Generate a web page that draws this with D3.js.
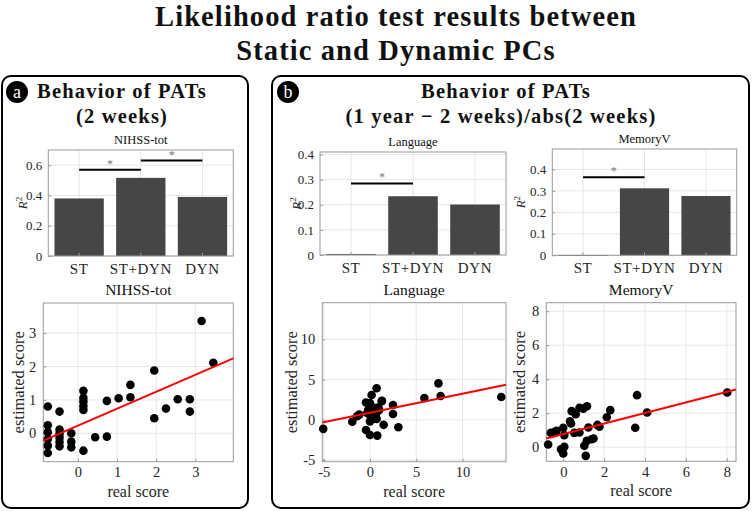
<!DOCTYPE html>
<html><head><meta charset="utf-8">
<script src="https://cdn.jsdelivr.net/npm/d3@7"></script>
<style>
html,body{margin:0;padding:0;background:#fff;}
svg{display:block;font-family:"Liberation Serif","Times New Roman",serif;}
</style></head>
<body><svg id="c" width="752" height="511"></svg>
<script>
// ---------- DATA ----------
const barCategories = ["ST", "ST+DYN", "DYN"];
const nihssR2 = [0.38, 0.516, 0.39];
const languageR2 = [0.004, 0.234, 0.201];
const memoryR2 = [0.0015, 0.312, 0.276];
const nihssSig = [["ST", "ST+DYN", 0.57], ["ST+DYN", "DYN", 0.63]];
const languageSig = [["ST", "ST+DYN", 0.285]];
const memorySig = [["ST", "ST+DYN", 0.364]];
const nihssBarTicks = [0, 0.2, 0.4, 0.6];
const languageBarTicks = [0, 0.1, 0.2, 0.3, 0.4];
const memoryBarTicks = [0, 0.1, 0.2, 0.3, 0.4];

const nihssReal = [-0.77,-0.77,-0.77,-0.77,-0.77,-0.77,-0.47,-0.47,-0.47,-0.47,-0.47,-0.47,-0.17,-0.17,-0.17,
  0.14,0.14,0.14,0.14,0.14,0.14,0.44,0.74,0.74,1.04,1.34,1.34,1.95,1.95,2.25,2.55,2.86,2.86,3.16,3.46];
const nihssEst = [0.80,0.24,0.03,-0.17,-0.37,-0.59,0.65,0.11,-0.01,-0.13,-0.26,-0.39,0.0,-0.25,-0.42,
  1.27,1.06,0.95,0.82,0.70,-0.52,-0.12,0.97,-0.10,1.05,1.45,1.08,1.88,0.45,0.74,1.02,1.02,0.65,3.36,2.11];
const nihssFit = [0.229, 0.507]; // intercept, slope
const nihssScatterTicks = [0, 1, 2, 3];

const languageReal = [-5.05,-1.91,-1.4,-1.15,-0.43,-0.43,0,0.79,0,0.18,0.72,1.3,1.48,2.49,2.49,3.07,5.88,7.4,7.64,14.19,
  -0.18,0.0,0.36,0.54,0.29,0.72,1.0,0.9,0.65,0.0,0.07,1.26,0.2,-0.3];
const languageEst = [-1.12,-0.23,0.45,0.65,2.15,-1.27,-1.88,-1.96,1.86,3.08,3.93,2.36,-0.62,0.72,1.85,-0.93,2.72,4.53,2.96,2.84,
  1.24,2.1,0.95,1.45,0.12,0.12,1.24,1.53,0.70,-0.2,0.41,2.3,1.6,0.85];
const languageFit = [0.88, 0.237];
const languageScatterTicks = [-5, 0, 5, 10];

const memoryReal = [-0.74,-0.61,-0.41,-0.33,-0.11,0,0.05,0,0.05,0.33,0.38,0.41,0.61,0.54,0.79,0.79,0.98,1.16,1.03,1.1,
  1.15,1.23,1.39,1.48,1.67,1.77,2.13,2.30,3.52,3.61,4.1,8.02];
const memoryEst = [0.16,0.84,0.90,0.96,-0.12,-0.37,0.02,1.14,0.71,1.53,1.39,2.12,1.94,0.84,0.86,2.31,2.27,2.41,0.08,-0.51,
  0.37,1.16,0.47,0.51,1.31,1.2,1.76,2.18,1.14,3.06,2.04,3.22];
const memoryFit = [0.765, 0.311];
const memoryScatterTicks = [0, 2, 4, 6, 8];

// ---------- DRAW ----------
const svg = d3.select("#c");
const AX = "#9a9a9a", GRID = "#e6e6e6", TXT = "#262626";
const numFmt = d => String(d); // plain hyphen minus like the original

// main title
const ttl = (y, t) => svg.append("text").attr("x", 396).attr("y", y).attr("text-anchor", "middle")
  .attr("font-size", 28.5).attr("letter-spacing", 1.1).attr("font-weight", "bold").attr("fill", "#111").text(t);
ttl(26, "Likelihood ratio test results between");
ttl(60, "Static and Dynamic PCs");

// panels
[[2, 76, 246, 432], [272, 76, 477, 432]].forEach(p => {
  svg.append("rect").attr("x", p[0]).attr("y", p[1]).attr("width", p[2]).attr("height", p[3])
    .attr("rx", 9).attr("fill", "none").attr("stroke", "#000").attr("stroke-width", 2);
});
function badge(cx, cy, t) {
  svg.append("circle").attr("cx", cx).attr("cy", cy).attr("r", 11).attr("fill", "#000");
  svg.append("text").attr("x", cx).attr("y", cy + 5.5).attr("text-anchor", "middle")
    .attr("fill", "#fff").attr("font-size", 18).text(t);
}
badge(17, 92, "a");
badge(288, 92, "b");
const hdr = (x, y, t) => svg.append("text").attr("x", x).attr("y", y).attr("text-anchor", "middle")
  .attr("font-size", 20.5).attr("letter-spacing", 1.2).attr("font-weight", "bold").attr("fill", "#111").text(t);
hdr(122, 98, "Behavior of PATs");
hdr(122, 123, "(2 weeks)");
hdr(506, 98, "Behavior of PATs");
hdr(501, 123, "(1 year \u2212 2 weeks)/abs(2 weeks)");

function frameBox(g, x0, x1, y0, y1) {
  g.append("rect").attr("x", x0).attr("y", y0).attr("width", x1 - x0).attr("height", y1 - y0)
    .attr("fill", "none").attr("stroke", AX).attr("stroke-width", 1);
}

function barChart(f, title, values, ymax, ticks, sig) {
  const g = svg.append("g");
  const x = d3.scaleBand().domain(barCategories).range([f.x0, f.x1]).paddingInner(0.2).paddingOuter(0.1);
  const y = d3.scaleLinear().domain([0, ymax]).range([f.y1, f.y0]);
  g.selectAll(".gy").data(ticks).join("line").attr("x1", f.x0).attr("x2", f.x1)
    .attr("y1", d => y(d)).attr("y2", d => y(d)).attr("stroke", GRID);
  g.selectAll(".gx").data(barCategories).join("line").attr("y1", f.y0).attr("y2", f.y1)
    .attr("x1", d => x(d) + x.bandwidth() / 2).attr("x2", d => x(d) + x.bandwidth() / 2).attr("stroke", GRID);
  g.selectAll(".bar").data(values).join("rect")
    .attr("x", (d, i) => x(barCategories[i])).attr("width", x.bandwidth())
    .attr("y", d => y(d)).attr("height", d => Math.max(1, y(0) - y(d)))
    .attr("fill", "#464646");
  const ya = d3.axisLeft(y).tickValues(ticks).tickSize(-3).tickPadding(6).tickFormat(d => d === 0 ? "0" : d3.format(".1f")(d));
  const yg = g.append("g").attr("transform", `translate(${f.x0},0)`).call(ya);
  const xa = d3.axisBottom(x).tickSize(-3).tickPadding(7);
  const xg = g.append("g").attr("transform", `translate(0,${f.y1})`).call(xa);
  [yg, xg].forEach(a => { a.select(".domain").remove(); a.selectAll("line").attr("stroke", AX);
    a.selectAll("text").attr("fill", TXT).attr("font-family", "Liberation Serif"); });
  yg.selectAll("text").attr("font-size", 13);
  xg.selectAll("text").attr("font-size", 15).attr("letter-spacing", 0.6);
  frameBox(g, f.x0, f.x1, f.y0, f.y1);
  sig.forEach(s => {
    const a = x(s[0]) + x.bandwidth() / 2, b = x(s[1]) + x.bandwidth() / 2;
    g.append("line").attr("x1", a).attr("x2", b).attr("y1", y(s[2])).attr("y2", y(s[2]))
      .attr("stroke", "#000").attr("stroke-width", 2);
    g.append("text").attr("x", (a + b) / 2).attr("y", y(s[2]) - 2).attr("text-anchor", "middle")
      .attr("font-size", 12).attr("fill", "#777").text("*");
  });
  g.append("text").attr("x", (f.x0 + f.x1) / 2).attr("y", f.y0 - 6).attr("text-anchor", "middle")
    .attr("font-size", 12.5).attr("fill", "#111").text(title);
  const t = g.append("text").attr("transform", `translate(${f.lx},${(f.y0 + f.y1) / 2}) rotate(-90)`)
    .attr("text-anchor", "middle").attr("font-size", 13).attr("fill", TXT);
  t.append("tspan").attr("font-style", "italic").text("R");
  t.append("tspan").attr("dy", -5).attr("font-size", 9).text("2");
}

function scatter(f, title, xs, ys, fit, xlim, ylim, ticks) {
  const g = svg.append("g");
  const x = d3.scaleLinear().domain(xlim).range([f.x0, f.x1]);
  const y = d3.scaleLinear().domain(ylim).range([f.y1, f.y0]);
  g.selectAll(".gx").data(ticks).join("line").attr("x1", d => x(d)).attr("x2", d => x(d))
    .attr("y1", f.y0).attr("y2", f.y1).attr("stroke", GRID);
  g.selectAll(".gy").data(ticks).join("line").attr("y1", d => y(d)).attr("y2", d => y(d))
    .attr("x1", f.x0).attr("x2", f.x1).attr("stroke", GRID);
  const xa = d3.axisBottom(x).tickValues(ticks).tickSize(-3).tickPadding(5).tickFormat(numFmt);
  const ya = d3.axisLeft(y).tickValues(ticks).tickSize(-3).tickPadding(7).tickFormat(numFmt);
  const xg = g.append("g").attr("transform", `translate(0,${f.y1})`).call(xa);
  const yg = g.append("g").attr("transform", `translate(${f.x0},0)`).call(ya);
  [xg, yg].forEach(a => { a.select(".domain").remove(); a.selectAll("line").attr("stroke", AX);
    a.selectAll("text").attr("fill", TXT).attr("font-size", 14.5).attr("font-family", "Liberation Serif"); });
  frameBox(g, f.x0, f.x1, f.y0, f.y1);
  const pts = xs.map((v, i) => [v, ys[i]]);
  g.selectAll(".pt").data(pts).join("circle").attr("cx", d => x(d[0])).attr("cy", d => y(d[1]))
    .attr("r", 4.3).attr("fill", "#000");
  g.append("line").attr("x1", x(xlim[0])).attr("x2", x(xlim[1]))
    .attr("y1", y(fit[0] + fit[1] * xlim[0])).attr("y2", y(fit[0] + fit[1] * xlim[1]))
    .attr("stroke", "#ff0000").attr("stroke-width", 2);
  g.append("text").attr("x", (f.x0 + f.x1) / 2).attr("y", f.y0 - 8).attr("text-anchor", "middle")
    .attr("font-size", 15.5).attr("fill", "#111").text(title);
  g.append("text").attr("x", (f.x0 + f.x1) / 2).attr("y", f.y1 + 35).attr("text-anchor", "middle")
    .attr("font-size", 16).attr("fill", TXT).text("real score");
  g.append("text").attr("transform", `translate(${f.lx},${(f.y0 + f.y1) / 2}) rotate(-90)`)
    .attr("text-anchor", "middle").attr("font-size", 16.5).attr("fill", TXT).text("estimated score");
}

barChart({x0: 48.3, x1: 233.3, y0: 150, y1: 256, lx: 27}, "NIHSS-tot", nihssR2, 0.7, nihssBarTicks, nihssSig);
barChart({x0: 320, x1: 506, y0: 152, y1: 255, lx: 301}, "Language", languageR2, 0.41, languageBarTicks, languageSig);
barChart({x0: 552.3, x1: 736.7, y0: 149, y1: 255.3, lx: 525}, "MemoryV", memoryR2, 0.495, memoryBarTicks, memorySig);

scatter({x0: 43.3, x1: 233.3, y0: 303, y1: 461.7, lx: 24}, "NIHSS-tot", nihssReal, nihssEst, nihssFit,
  [-0.885, 3.97], [-0.85, 3.9], nihssScatterTicks);
scatter({x0: 322.3, x1: 506, y0: 302.7, y1: 461.7, lx: 297}, "Language", languageReal, languageEst, languageFit,
  [-5.15, 14.7], [-5.2, 14.55], languageScatterTicks);
scatter({x0: 546.3, x1: 736, y0: 302.7, y1: 461.3, lx: 525}, "MemoryV", memoryReal, memoryEst, memoryFit,
  [-0.83, 8.45], [-0.83, 8.5], memoryScatterTicks);
</script></body></html>
